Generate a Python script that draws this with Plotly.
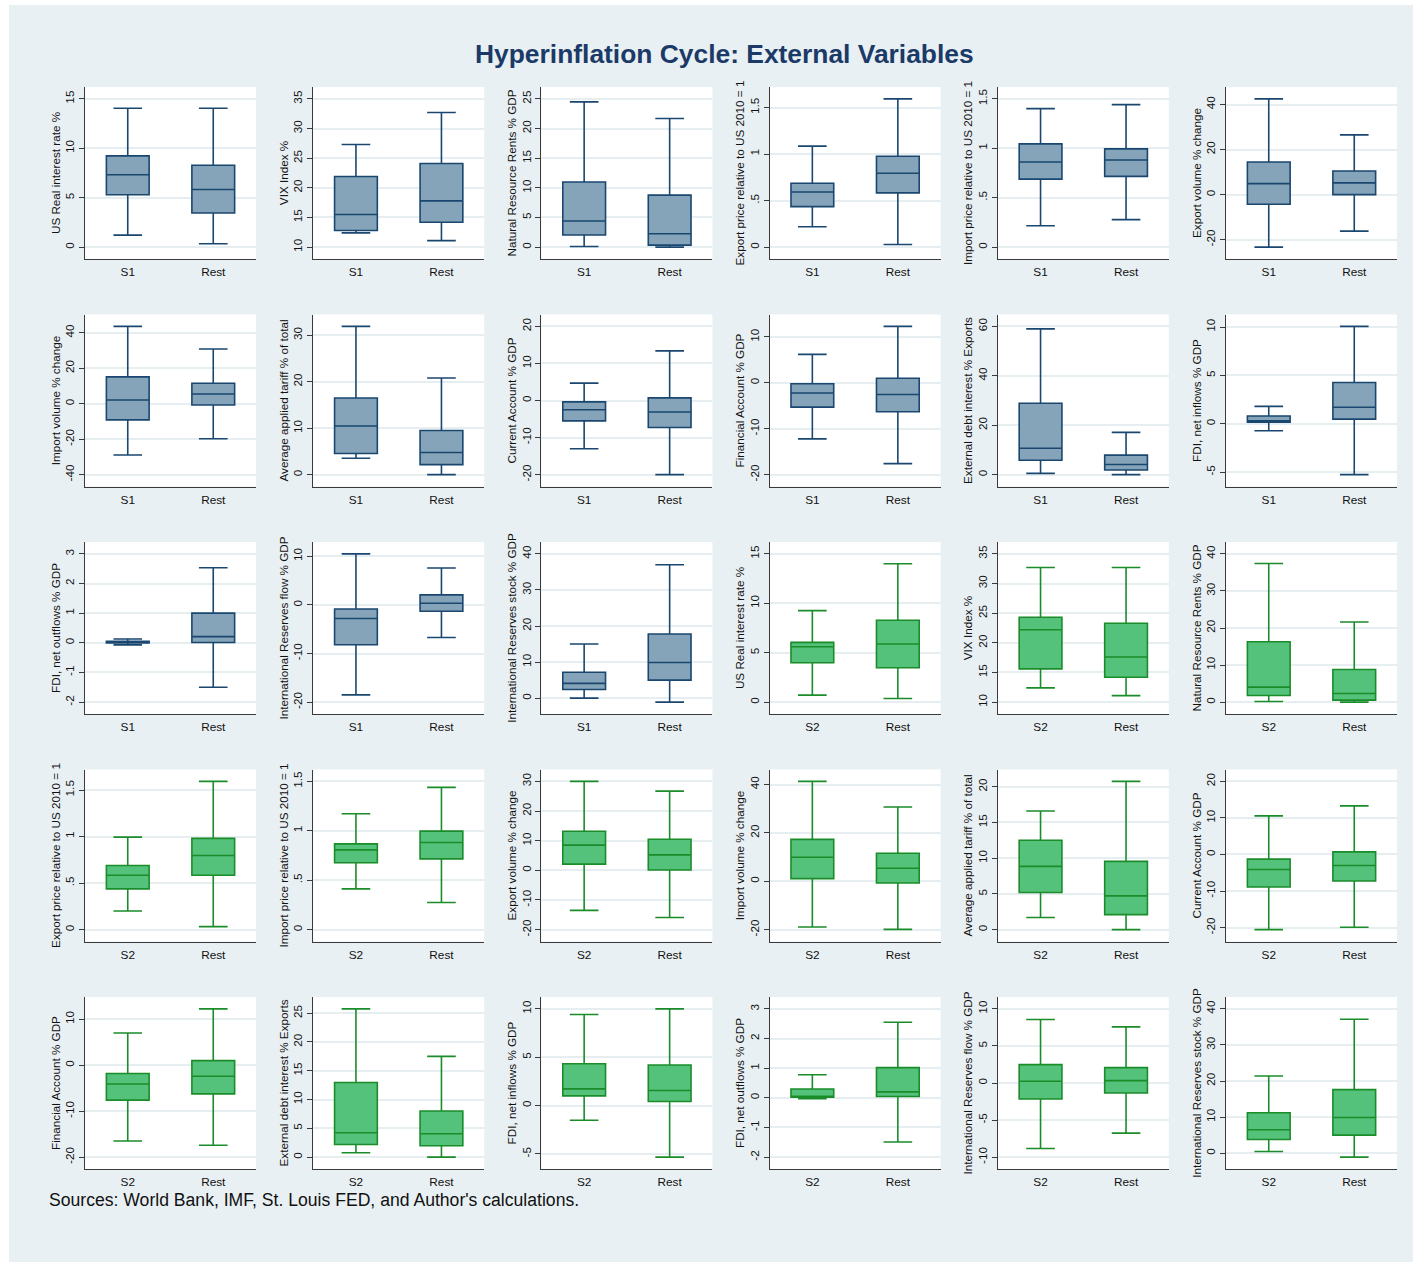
import plotly.graph_objects as go

# ---------------------------------------------------------------------------
# Data: one entry per panel (5 rows x 6 columns, read left to right)
# ---------------------------------------------------------------------------
Y_TITLES = [
    "US Real interest rate %", "VIX Index %", "Natural Resource Rents % GDP",
    "Export price relative to US 2010 = 1", "Import price relative to US 2010 = 1",
    "Export volume % change",
    "Import volume % change", "Average applied tariff % of total", "Current Account % GDP",
    "Financial Account % GDP", "External debt interest % Exports", "FDI, net inflows % GDP",
    "FDI, net outflows % GDP", "International Reserves flow % GDP",
    "International Reserves stock % GDP",
    "US Real interest rate %", "VIX Index %", "Natural Resource Rents % GDP",
    "Export price relative to US 2010 = 1", "Import price relative to US 2010 = 1",
    "Export volume % change", "Import volume % change", "Average applied tariff % of total",
    "Current Account % GDP",
    "Financial Account % GDP", "External debt interest % Exports", "FDI, net inflows % GDP",
    "FDI, net outflows % GDP", "International Reserves flow % GDP",
    "International Reserves stock % GDP",
]

FOCUS_GROUP = ["S1"] * 15 + ["S2"] * 15
OTHER_GROUP = "Rest"

# Box statistics for the stage group (S1 / S2)
FOCUS_LOW = [1.22, 12.4, 0.1, 0.219, 0.217, -23.3, -28.9, 3.53, -13.0, -12.2, 0.5, -0.73,
             -0.07, -18.5, 0.0, 0.71, 12.4, 0.18, 0.2, 0.412, -13.5, -18.9, 1.69, -20.55,
             -16.5, 0.76, -1.52, -0.03, -8.83, 0.46]
FOCUS_Q1 = [5.3, 12.8, 2.04, 0.435, 0.688, -4.3, -9.1, 4.54, -5.5, -5.3, 5.8, 0.17,
            0.0, -8.2, 2.4, 3.99, 15.6, 1.8, 0.438, 0.676, 2.1, 1.1, 5.2, -8.9,
            -7.6, 2.2, 1.0, 0.02, -2.16, 3.8]
FOCUS_MED = [7.33, 15.5, 4.41, 0.593, 0.862, 4.9, 2.1, 10.45, -2.5, -2.2, 10.7, 0.31,
             0.02, -2.8, 4.1, 5.6, 22.2, 4.05, 0.585, 0.807, 8.5, 9.9, 8.85, -4.1,
             -4.1, 4.24, 1.73, 0.045, 0.23, 6.5]
FOCUS_Q3 = [9.23, 21.9, 10.97, 0.686, 1.045, 14.5, 15.1, 16.5, -0.36, -0.2, 28.9, 0.8,
            0.05, -0.83, 7.2, 6.05, 24.3, 16.3, 0.689, 0.868, 13.2, 17.3, 12.5, -1.28,
            -1.8, 12.97, 4.33, 0.3, 2.48, 11.2]
FOCUS_HIGH = [14.05, 27.3, 24.5, 1.085, 1.401, 42.5, 43.6, 31.9, 4.7, 6.2, 59.0, 1.8,
              0.13, 10.5, 15.0, 9.26, 32.7, 37.4, 0.994, 1.172, 30.0, 41.3, 16.6, 10.55,
              7.0, 25.75, 9.41, 0.78, 8.56, 21.4]

# Box statistics for the remaining observations ("Rest")
REST_LOW = [0.34, 11.1, 0.0, 0.028, 0.278, -16.2, -19.8, 0.0, -20.0, -17.6, 0.0, -5.26,
            -1.5, -6.7, -1.1, 0.37, 11.1, 0.0, 0.032, 0.274, -15.9, -19.9, 0.0, -19.9,
            -17.4, 0.0, -5.33, -1.49, -6.76, -1.1]
REST_Q1 = [3.46, 14.2, 0.34, 0.583, 0.716, 0.0, -0.75, 2.16, -7.3, -6.3, 1.9, 0.48,
           0.01, -1.3, 5.0, 3.48, 14.2, 0.54, 0.585, 0.716, 0.1, -0.7, 2.1, -7.25,
           -6.25, 1.98, 0.42, 0.045, -1.35, 5.0]
REST_MED = [5.83, 17.8, 2.26, 0.794, 0.882, 5.2, 5.5, 4.76, -3.1, -2.55, 4.1, 1.7,
            0.21, 0.34, 9.9, 5.88, 17.6, 2.34, 0.797, 0.882, 5.2, 5.4, 4.73, -3.0,
            -2.4, 4.07, 1.56, 0.2, 0.32, 9.9]
REST_Q3 = [8.28, 24.1, 8.77, 0.977, 0.994, 10.5, 11.5, 9.5, 0.7, 1.0, 7.9, 4.26,
           1.0, 2.07, 17.8, 8.28, 23.3, 8.8, 0.98, 0.997, 10.5, 11.6, 9.55, 0.73,
           1.0, 8.0, 4.19, 1.02, 2.07, 17.6]
REST_HIGH = [14.05, 32.7, 21.7, 1.593, 1.442, 26.5, 30.8, 20.8, 13.4, 12.3, 17.1, 10.07,
             2.53, 7.6, 37.0, 14.0, 32.7, 21.6, 1.593, 1.439, 26.7, 30.7, 20.75, 13.3,
             12.25, 17.5, 10.0, 2.55, 7.57, 37.1]

# Y-axis tick values per panel
Y_TICKS = [
    [0, 5, 10, 15], [10, 15, 20, 25, 30, 35], [0, 5, 10, 15, 20, 25],
    [0, 0.5, 1, 1.5], [0, 0.5, 1, 1.5], [-20, 0, 20, 40],
    [-40, -20, 0, 20, 40], [0, 10, 20, 30], [-20, -10, 0, 10, 20],
    [-20, -10, 0, 10], [0, 20, 40, 60], [-5, 0, 5, 10],
    [-2, -1, 0, 1, 2, 3], [-20, -10, 0, 10], [0, 10, 20, 30, 40],
    [0, 5, 10, 15], [10, 15, 20, 25, 30, 35], [0, 10, 20, 30, 40],
    [0, 0.5, 1, 1.5], [0, 0.5, 1, 1.5], [-20, -10, 0, 10, 20, 30],
    [-20, 0, 20, 40], [0, 5, 10, 15, 20], [-20, -10, 0, 10, 20],
    [-20, -10, 0, 10], [0, 5, 10, 15, 20, 25], [-5, 0, 5, 10],
    [-2, -1, 0, 1, 2, 3], [-10, -5, 0, 5, 10], [0, 10, 20, 30, 40],
]

TITLE = "Hyperinflation Cycle: External Variables"
NOTE = "Sources: World Bank, IMF, St. Louis FED, and Author's calculations."

# ---------------------------------------------------------------------------
# Styling / geometry
# ---------------------------------------------------------------------------
W, H = 1421, 1268
FONT = "Liberation Sans, Arial, Helvetica, sans-serif"
BG = "#e8f0f3"
GRID = "#e6eef1"
AXIS = "#3a3a3a"
STYLE = {
    "S1": dict(fill="#86a4b9", line="#1a476f"),
    "S2": dict(fill="#55c27b", line="#1a8c2a"),
}
COL_LEFT = [85 + 228.2 * c for c in range(6)]
ROW_TOP = [87 + 227.5 * r for r in range(5)]
PW, PH = 171, 172


def fmt_tick(v):
    s = f"{v:g}"
    if s.startswith("0.") and len(s) > 2:
        s = s[1:]
    elif s.startswith("-0."):
        s = "-" + s[2:]
    return s


fig = go.Figure()
layout = {}
shapes = [
    dict(type="rect", xref="paper", yref="paper", x0=9 / W, x1=1413 / W,
         y0=1 - 1262 / H, y1=1 - 5 / H, fillcolor=BG, line_width=0, layer="below"),
]

for i in range(30):
    r, c = divmod(i, 6)
    suffix = "" if i == 0 else str(i + 1)
    grp = FOCUS_GROUP[i]
    st = STYLE[grp]
    cats = [grp, OTHER_GROUP]

    fig.add_trace(go.Box(
        x=cats,
        lowerfence=[FOCUS_LOW[i], REST_LOW[i]],
        q1=[FOCUS_Q1[i], REST_Q1[i]],
        median=[FOCUS_MED[i], REST_MED[i]],
        q3=[FOCUS_Q3[i], REST_Q3[i]],
        upperfence=[FOCUS_HIGH[i], REST_HIGH[i]],
        boxpoints=False,
        width=0.5,
        whiskerwidth=0.67,
        fillcolor=st["fill"],
        line=dict(color=st["line"], width=1.6),
        xaxis="x" + suffix, yaxis="y" + suffix,
        showlegend=False, hoverinfo="skip",
    ))

    vals = [FOCUS_LOW[i], REST_LOW[i], FOCUS_HIGH[i], REST_HIGH[i]]
    lo = min(Y_TICKS[i][0], min(vals))
    hi = max(Y_TICKS[i][-1], max(vals))
    pad = 0.08 * (hi - lo)

    x0 = COL_LEFT[c]
    y0 = ROW_TOP[r]
    layout["xaxis" + suffix] = dict(
        domain=[x0 / W, (x0 + PW) / W], anchor="y" + suffix,
        type="category", categoryorder="array", categoryarray=cats,
        range=[-0.5, 1.5], showgrid=False, zeroline=False,
        showline=True, linecolor=AXIS, linewidth=1,
        ticks="", ticklabelstandoff=2,
        tickfont=dict(family=FONT, size=11.8, color="#111"),
        fixedrange=True,
    )
    layout["yaxis" + suffix] = dict(
        domain=[1 - (y0 + PH) / H, 1 - y0 / H], anchor="x" + suffix,
        range=[lo - pad, hi + pad],
        tickvals=Y_TICKS[i], ticktext=[fmt_tick(v) for v in Y_TICKS[i]],
        tickangle=-90,
        showgrid=True, gridcolor=GRID, gridwidth=1.5, zeroline=False,
        showline=True, linecolor=AXIS, linewidth=1,
        ticks="outside", ticklen=5, tickcolor=AXIS, tickwidth=1,
        tickfont=dict(family=FONT, size=11.8, color="#111"),
        title=dict(text=Y_TITLES[i], standoff=0,
                   font=dict(family=FONT, size=11.7, color="#111")),
        fixedrange=True,
    )
    shapes.append(dict(type="rect", xref="x" + suffix + " domain",
                       yref="y" + suffix + " domain", x0=0, x1=1, y0=0, y1=1,
                       fillcolor="white", line_width=0, layer="below"))

fig.update_layout(
    width=W, height=H,
    margin=dict(l=0, r=0, t=0, b=0),
    paper_bgcolor="white",
    plot_bgcolor="rgba(0,0,0,0)",
    font=dict(family=FONT, color="#111"),
    shapes=shapes,
    annotations=[
        dict(text=f"<b>{TITLE}</b>", x=724 / W, y=1 - 54 / H, xref="paper", yref="paper",
             xanchor="center", yanchor="middle", showarrow=False,
             font=dict(family=FONT, size=26.4, color="#1b3a68")),
        dict(text=NOTE, x=47 / W, y=1 - 1200 / H, xref="paper", yref="paper",
             xanchor="left", yanchor="middle", showarrow=False,
             font=dict(family=FONT, size=17.6, color="#111")),
    ],
    **layout,
)

fig.write_html("out.html")
